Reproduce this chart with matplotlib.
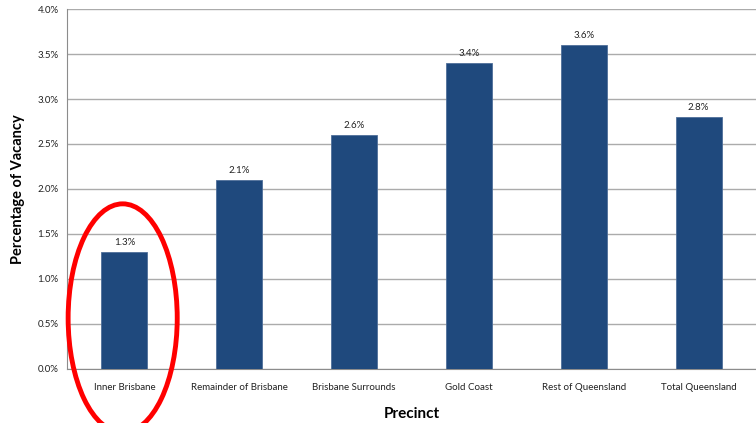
import matplotlib
matplotlib.use("Agg")
import matplotlib.pyplot as plt
from matplotlib.patches import Ellipse
from matplotlib.ticker import FuncFormatter
import numpy as np

# Rental vacancy rate by precinct
precincts = ["Inner Brisbane", "Remainder of Brisbane", "Brisbane Surrounds",
             "Gold Coast", "Rest of Queensland", "Total Queensland"]
vacancy = [1.3, 2.1, 2.6, 3.4, 3.6, 2.8]
y_ticks = [0.0, 0.5, 1.0, 1.5, 2.0, 2.5, 3.0, 3.5, 4.0]

plt.rcParams['font.family'] = ['Lato', 'DejaVu Sans']

fig = plt.figure(figsize=(7.56, 4.23), dpi=100)
ax = fig.add_axes([0.0886, 0.1277, 0.9114, 0.851])

x = np.arange(len(precincts))
ax.bar(x, vacancy, width=0.4, color="#1F497D", edgecolor="#4F6F9A",
       linewidth=0.6, zorder=3)

for xi, v in zip(x, vacancy):
    ax.text(xi, v + 0.06, f"{v:.1f}%", ha="center", va="bottom",
            fontsize=7, color="#222222")

ax.set_xlim(-0.5, len(precincts) - 0.5)
ax.set_ylim(0, 4.0)
ax.set_yticks(y_ticks)
ax.yaxis.set_major_formatter(FuncFormatter(lambda v, _: f"{v:.1f}%"))
ax.set_xticks(x)
ax.set_xticklabels(precincts)
ax.tick_params(axis="both", length=0, labelsize=7, colors="#222222")
ax.tick_params(axis="x", pad=10)
ax.tick_params(axis="y", pad=6)

ax.grid(axis="y", color="#ABABAB", linewidth=1, zorder=0)
for side in ("top", "right"):
    ax.spines[side].set_visible(False)
ax.spines["left"].set_color("#8C8C8C")
ax.spines["bottom"].set_color("#8C8C8C")

ax.set_xlabel("Precinct", fontsize=11, fontweight="bold", labelpad=11)
ax.set_ylabel("Percentage of Vacancy", fontsize=10.5, fontweight="bold", labelpad=9)

# Highlight the Inner Brisbane bar
ring = Ellipse((-0.015, 0.565), width=0.95, height=2.54, fill=False,
               edgecolor="#FF0000", linewidth=3.5, zorder=5, clip_on=False)
ax.add_patch(ring)

fig.savefig("out.png", dpi=100)
